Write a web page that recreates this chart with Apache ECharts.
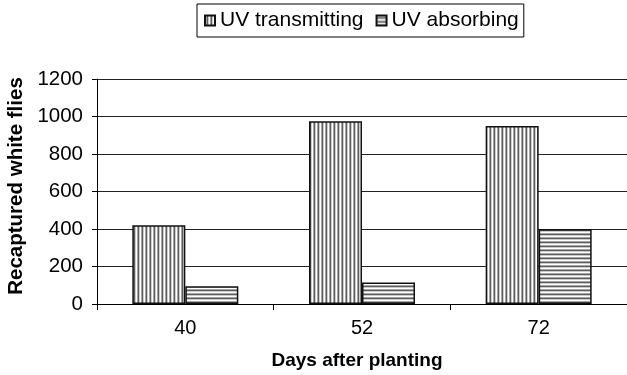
<!DOCTYPE html>
<html>
<head>
<meta charset="utf-8">
<script src="https://cdn.jsdelivr.net/npm/echarts@6/dist/echarts.min.js"></script>
<style>
  html, body { margin: 0; padding: 0; background: #fff; }
  #chart { width: 627px; height: 375px; }
</style>
</head>
<body>
<div id="chart"></div>
<script>
// Days after planting (categories)
const days = ['40', '52', '72'];
// Recaptured white flies per treatment
const uvTransmitting = [420, 975, 950];
const uvAbsorbing = [95, 115, 400];
// Y axis scale
const yMin = 0, yMax = 1200, yStep = 200;

// Striped fills drawn on small canvases and tiled by ECharts
function stripes(vertical) {
  const c = document.createElement('canvas');
  const p = 4;
  c.width = p; c.height = p;
  const g = c.getContext('2d');
  const shades = ['#ffffff', '#a4a4a4', '#5e5e5e', '#cccccc'];
  for (let i = 0; i < p; i++) {
    g.fillStyle = shades[i];
    if (vertical) g.fillRect(i, 0, 1, p); else g.fillRect(0, i, p, 1);
  }
  return { image: c, repeat: 'repeat' };
}

const chart = echarts.init(document.getElementById('chart'), null, { renderer: 'canvas' });
const font = 'Liberation Sans, Arial, Helvetica, sans-serif';

chart.setOption({
  backgroundColor: '#fff',
  animation: false,
  textStyle: { fontFamily: font },
  legend: {
    left: 197, top: 4,
    padding: [6, 5, 6, 7],
    itemGap: 12,
    itemWidth: 10, itemHeight: 10,
    icon: 'rect',
    borderColor: '#000', borderWidth: 1,
    textStyle: { fontSize: 21, color: '#000', fontFamily: font },
    data: ['UV transmitting', 'UV absorbing']
  },
  grid: { left: 97, right: -4, top: 79, bottom: 71, containLabel: false },
  xAxis: {
    type: 'category',
    data: days,
    boundaryGap: true,
    axisLine: { lineStyle: { color: '#000', width: 1 } },
    axisTick: { show: true, length: 6, lineStyle: { color: '#000' } },
    axisLabel: { fontSize: 20, color: '#000', margin: 14, fontFamily: font },
    splitLine: { show: false }
  },
  yAxis: {
    type: 'value',
    min: yMin, max: yMax, interval: yStep,
    axisLine: { show: true, lineStyle: { color: '#000', width: 1 } },
    axisTick: { show: true, length: 5, lineStyle: { color: '#000' } },
    axisLabel: { fontSize: 20.5, color: '#000', margin: 14, fontFamily: font, formatter: v => String(v) },
    splitLine: { show: true, lineStyle: { color: '#222', width: 1 } }
  },
  graphic: [
    {
      type: 'text', x: 357, y: 361,
      style: { text: 'Days after planting', font: 'bold 19px ' + font, fill: '#000', align: 'center', verticalAlign: 'middle' }
    },
    {
      type: 'text', x: 16, y: 186, rotation: Math.PI / 2,
      style: { text: 'Recaptured white flies', font: 'bold 20.5px ' + font, fill: '#000', align: 'center', verticalAlign: 'middle' }
    }
  ],
  series: [
    {
      name: 'UV transmitting', type: 'bar', data: uvTransmitting,
      barGap: '0%', barCategoryGap: '40%',
      itemStyle: { color: stripes(true), borderColor: '#111', borderWidth: 1.5 }
    },
    {
      name: 'UV absorbing', type: 'bar', data: uvAbsorbing,
      itemStyle: { color: stripes(false), borderColor: '#111', borderWidth: 1.5 }
    }
  ]
});
</script>
</body>
</html>
